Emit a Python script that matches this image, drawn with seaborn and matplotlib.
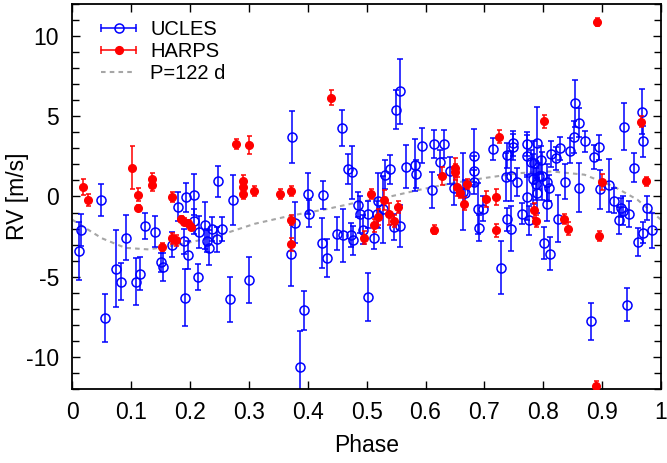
import numpy as np
import pandas as pd
import seaborn as sns
import matplotlib
matplotlib.use("Agg")
import matplotlib.pyplot as plt
from matplotlib.lines import Line2D
from matplotlib.legend_handler import HandlerBase
from matplotlib.ticker import MultipleLocator, FormatStrFormatter


# UCLES velocities (phase, RV [m/s], error)
ucles_phase = [0.011, 0.015, 0.049, 0.055, 0.074, 0.082, 0.091, 0.108, 0.115, 0.124,
               0.140, 0.150, 0.154, 0.170, 0.180, 0.189, 0.192, 0.193, 0.197, 0.206,
               0.207, 0.213, 0.216, 0.226, 0.228, 0.233, 0.237, 0.245, 0.248, 0.254,
               0.268, 0.273, 0.301, 0.374, 0.371, 0.379, 0.3865, 0.394, 0.400, 0.402,
               0.425, 0.426, 0.433, 0.449, 0.458, 0.459, 0.469, 0.475, 0.473, 0.477,
               0.486, 0.489, 0.4935, 0.502, 0.502, 0.512, 0.520, 0.517, 0.528, 0.532,
               0.540, 0.550, 0.557, 0.547, 0.556, 0.567, 0.582, 0.583, 0.594, 0.611,
               0.615, 0.624, 0.632, 0.641, 0.648, 0.664, 0.667, 0.683, 0.682, 0.683,
               0.689, 0.691, 0.698, 0.715, 0.728, 0.7375, 0.739, 0.738, 0.745, 0.746,
               0.748, 0.749, 0.755, 0.764, 0.772, 0.772, 0.773, 0.776, 0.779, 0.782,
               0.784, 0.788, 0.789, 0.790, 0.793, 0.796, 0.798, 0.802, 0.806, 0.806,
               0.810, 0.811, 0.813, 0.822, 0.8245, 0.829, 0.8375, 0.8456, 0.853, 0.854,
               0.861, 0.861, 0.871, 0.881, 0.886, 0.8945, 0.897, 0.911, 0.920, 0.928,
               0.9326, 0.9355, 0.9366, 0.942, 0.945, 0.9536, 0.961, 0.968, 0.9696, 0.9696,
               0.976, 0.9855]
ucles_rv = [-3.4, -2.06, -0.23, -7.6, -4.5, -5.3, -2.56, -5.3, -4.8, -1.83,
            -2.19, -4.1, -4.4, -3.0, -0.65, -2.8, -6.3, -0.05, -3.65, -1.55,
            0.12, -5.0, -2.2, -1.8, -2.75, -3.18, -2.0, -2.68, 0.94, -2.04,
            -6.4, -0.22, -5.2, 3.7, -3.56, -1.64, -10.6, -7.1, 0.18, -1.06,
            -2.88, 0.1, -3.82, -2.31, 4.27, -2.42, 1.7, 1.5, -2.42, -2.72,
            -0.5, -1.1, -2.08, -1.1, -6.25, -2.56, -0.25, -1.08, -0.8, 1.35,
            1.69, 5.42, 6.56, -1.9, -1.82, 1.85, 1.96, 1.4, 3.17, 0.4,
            3.27, 2.12, 3.27, 1.6, 0.5, 0.3, 0.2, 2.53, 1.6, 0.92,
            -0.75, -1.98, -0.75, 2.96, -4.45, 1.21, 2.58, -1.42, 1.27, -2.0,
            3.31, 3.1, 0.9, -1.06, 3.27, 2.52, -0.06, -1.48, 2.15, 1.1,
            2.1, 0.79, 3.35, 0.2, 1.27, 2.27, 1.27, -2.88, 0.9, -0.48,
            0.55, -3.56, 2.64, 2.38, -1.38, 3.0, 0.92, 2.86, 3.69, 5.81,
            4.6, 0.56, 3.44, -7.79, 2.46, 3.06, 0.44, 0.69, -0.25, -1.48,
            -0.7, -0.9, 4.35, -6.75, -1.1, 1.79, -2.83, 5.29, 3.44, -2.25,
            -0.71, -2.1]
ucles_err = [1.8, 1.0, 1.0, 1.5, 2.4, 1.15, 1.4, 1.45, 1.0, 0.8,
             0.95, 0.6, 0.85, 0.8, 0.9, 0.8, 1.75, 0.9, 0.9, 0.8,
             1.3, 0.8, 1.0, 1.45, 0.7, 1.1, 0.75, 0.8, 0.95, 0.75,
             1.4, 1.55, 1.45, 1.6, 2.0, 1.27, 2.2, 1.2, 1.3, 0.85,
             1.55, 0.85, 1.2, 1.05, 1.13, 1.65, 0.95, 1.65, 0.75, 0.9,
             0.75, 1.15, 0.9, 0.85, 1.5, 0.7, 1.7, 0.8, 2.1, 0.9,
             0.9, 1.2, 2.03, 0.83, 1.3, 1.35, 1.6, 0.9, 1.1, 1.1,
             0.9, 0.8, 0.9, 0.85, 1.05, 2.4, 0.8, 1.65, 0.9, 0.75,
             1.6, 0.8, 0.75, 0.7, 1.65, 1.5, 0.78, 0.7, 1.55, 1.4,
             0.8, 0.8, 0.85, 0.65, 0.75, 1.3, 1.4, 0.9, 0.73, 1.55,
             1.35, 1.0, 2.2, 1.2, 0.8, 0.85, 1.5, 1.0, 1.15, 1.05,
             0.8, 1.05, 0.83, 0.73, 1.45, 0.73, 1.1, 0.8, 1.0, 1.45,
             0.9, 1.5, 0.65, 1.15, 0.73, 0.76, 1.23, 1.63, 0.78, 0.83,
             0.6, 0.9, 1.46, 1.04, 0.83, 0.9, 0.85, 1.4, 0.96, 0.65,
             0.73, 1.1]

# HARPS velocities
harps_phase = [0.018, 0.027, 0.101, 0.111, 0.112, 0.135, 0.136, 0.153, 0.169, 0.170,
               0.176, 0.185, 0.190, 0.196, 0.202, 0.278, 0.2995, 0.290, 0.290, 0.290,
               0.309, 0.352, 0.371, 0.371, 0.372, 0.439, 0.508, 0.496, 0.513, 0.519,
               0.530, 0.538, 0.546, 0.554, 0.615, 0.628, 0.650, 0.650, 0.653, 0.658,
               0.666, 0.670, 0.703, 0.719, 0.719, 0.725, 0.785, 0.7875, 0.802, 0.835,
               0.8416, 0.891, 0.8945, 0.890, 0.8996, 0.9655, 0.974]
harps_rv = [0.62, -0.22, 1.79, 0.12, -0.73, 1.06, 0.69, -3.17, -0.03, -2.6,
            -2.72, -1.42, -1.56, -1.68, -1.9, 3.29, 3.23, 0.97, 0.6, 0.15,
            0.35, 0.17, 0.35, -1.48, -2.98, 6.17, 0.15, -2.58, -1.8, -1.25,
            -0.22, -1.1, -1.53, -0.65, -2.06, 1.29, 1.8, 1.54, 0.62, 0.23,
            -0.46, 0.77, -0.17, -0.02, -2.1, 3.73, -0.87, -1.53, 4.69, -1.42,
            -2.0, 10.9, -2.46, -11.8, 0.92, 4.67, 0.94]
harps_err = [0.5, 0.4, 1.35, 0.4, 0.2, 0.4, 0.35, 0.25, 0.3, 0.35,
             0.35, 0.2, 0.2, 0.2, 0.2, 0.3, 0.55, 0.4, 0.3, 0.3,
             0.3, 0.3, 0.3, 0.3, 0.4, 0.45, 0.3, 0.4, 0.4, 0.5,
             0.6, 0.7, 0.4, 0.35, 0.3, 0.55, 0.6, 0.5, 0.6, 0.3,
             0.4, 0.3, 0.5, 0.5, 0.4, 0.4, 0.45, 0.35, 0.4, 0.3,
             0.4, 0.25, 0.3, 0.3, 0.5, 0.35, 0.3]

# Keplerian model, P=122 d
model_phase = [0.00, 0.05, 0.09, 0.13, 0.18, 0.22, 0.26, 0.31, 0.37, 0.43, 0.48,
               0.54, 0.59, 0.645, 0.70, 0.76, 0.815, 0.87, 0.92, 0.96, 1.00]
model_rv = [-1.45, -2.6, -3.2, -3.3, -3.0, -2.7, -2.3, -1.7, -1.2, -0.8, -0.4,
            0.0, 0.42, 0.83, 1.15, 1.46, 1.56, 1.36, 0.62, -0.2, -1.45]


class CapLineHandler(HandlerBase):
    # gnuplot-like key: horizontal bar with end caps and the point in the middle
    def create_artists(self, legend, orig, xdescent, ydescent, width, height, fontsize, trans):
        y = height / 2 - ydescent
        x0, x1 = -xdescent, width - xdescent
        col = orig.get_color()
        line = Line2D([x0, x1], [y, y], color=col, lw=1.1, transform=trans)
        caps = Line2D([x0, x1], [y, y], ls="none", marker="|", ms=6, mew=1.1,
                      color=col, transform=trans)
        dot = Line2D([(x0 + x1) / 2], [y], ls="none", marker="o",
                     ms=orig.get_markersize(), mfc=orig.get_markerfacecolor(),
                     mec=col, mew=1.1, transform=trans)
        return [line, caps, dot]


sns.set_theme(style="ticks")
plt.rcParams["font.family"] = ["Liberation Sans", "DejaVu Sans"]
plt.rcParams["axes.unicode_minus"] = False
plt.rcParams["text.color"] = "black"
plt.rcParams["axes.labelcolor"] = "black"

fig = plt.figure(figsize=(6.67, 4.63), dpi=100)
ax = fig.add_axes([0.1084, 0.1598, 0.8826, 0.8316])

model = pd.DataFrame({"phase": model_phase, "rv": model_rv})
sns.lineplot(data=model, x="phase", y="rv", ax=ax, color="#a6a6a6", lw=1.5,
             linestyle=(0, (2.2, 2.0)), estimator=None, zorder=1)

ax.errorbar(ucles_phase, ucles_rv, yerr=ucles_err, fmt="o", mfc="none", mec="#0000ff",
            ms=6.5, mew=1.1, ecolor="#0000ff", elinewidth=1.1, capsize=2, capthick=1.1,
            zorder=2)
ax.errorbar(harps_phase, harps_rv, yerr=harps_err, fmt="o", color="#ff0000",
            ms=5.5, ecolor="#ff0000", elinewidth=1.1, capsize=1.8, capthick=1.1,
            zorder=3)

ax.set_xlim(0, 1)
ax.set_ylim(-12, 12)
ax.xaxis.set_major_locator(MultipleLocator(0.1))
ax.xaxis.set_major_formatter(FormatStrFormatter("%g"))
ax.yaxis.set_major_locator(MultipleLocator(5))
ax.yaxis.set_minor_locator(MultipleLocator(1))
ax.tick_params(axis="both", which="both", direction="in", top=True, right=True,
               labelsize=16.5, colors="black", width=1.0)
ax.tick_params(axis="both", which="major", length=6)
ax.tick_params(axis="y", which="minor", length=5)
ax.tick_params(axis="x", pad=8.5)
ax.tick_params(axis="y", pad=9.5)
for sp in ax.spines.values():
    sp.set_linewidth(1.3)
    sp.set_color("black")

ax.set_xlabel("Phase", fontsize=16.5, labelpad=7)
ax.set_ylabel("RV [m/s]", fontsize=16.5)
ax.yaxis.set_label_coords(-0.074, 0.5)

handles = [Line2D([], [], color="#0000ff", marker="o", mfc="none", ms=6.5),
           Line2D([], [], color="#ff0000", marker="o", mfc="#ff0000", ms=5.5),
           Line2D([], [], color="#a6a6a6", lw=1.5, linestyle=(0, (2.2, 2.0)))]
ax.legend(handles, ["UCLES", "HARPS", "P=122 d"],
          handler_map={handles[0]: CapLineHandler(), handles[1]: CapLineHandler()},
          loc="upper left", bbox_to_anchor=(0.049, 0.959), frameon=False,
          fontsize=14.5, borderpad=0, borderaxespad=0, handlelength=1.75,
          handletextpad=0.7, labelspacing=0.15)

fig.savefig("out.png", dpi=100)
plt.close(fig)
